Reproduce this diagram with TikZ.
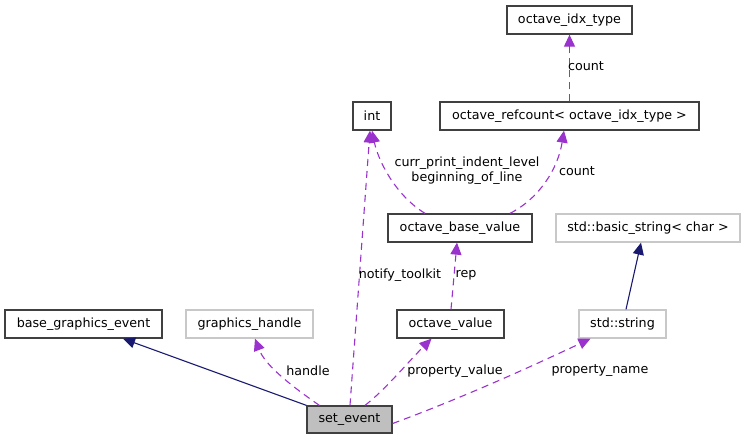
\documentclass[tikz,border=0pt]{standalone}
\usepackage{fontspec}
\setmainfont{DejaVu Sans}
\usetikzlibrary{arrows.meta}
\definecolor{edgepurple}{HTML}{9A32CD}
\definecolor{edgenavy}{HTML}{191970}
\definecolor{boxdark}{HTML}{404040}
\definecolor{boxlight}{HTML}{C8C8C8}
\definecolor{setfill}{HTML}{BFBFBF}
\begin{document}
\begin{tikzpicture}[x=1pt,y=-1pt,
  every node/.style={font=\fontsize{12.7}{15}\selectfont},
  cls/.style={draw=boxdark,line width=1.3pt,fill=white,inner sep=0pt,minimum height=28pt,align=center},
  ext/.style={draw=boxlight,line width=1.3pt,fill=white,inner sep=0pt,minimum height=28pt,align=center},
  usage/.style={draw=edgepurple,line width=1.1pt,dash pattern=on 7pt off 5pt,-{Triangle[length=12pt,width=11pt,fill=edgepurple]}},
  inherit/.style={draw=edgenavy,line width=1.1pt,-{Triangle[length=12pt,width=11pt,fill=edgenavy]}},
  lbl/.style={inner sep=0pt,align=center}]
\useasboundingbox (0,0) rectangle (745,440);
% nodes
\node[cls,minimum width=157pt] (base) at (83.5,324) {base\_graphics\_event};
\node[ext,minimum width=127pt] (gh) at (249.5,324) {graphics\_handle};
\node[cls,minimum width=85pt,minimum height=27pt,fill=setfill] (set) at (349.5,419.5) {set\_event};
\node[cls,minimum width=38pt] (int) at (372,116) {int};
\node[cls,minimum width=125pt] (idx) at (569.5,20) {octave\_idx\_type};
\node[cls,minimum width=259pt] (refc) at (569.5,116) {octave\_refcount< octave\_idx\_type >};
\node[cls,minimum width=144pt] (obv) at (460,228) {octave\_base\_value};
\node[ext,minimum width=184pt] (bstr) at (648,228) {std::basic\_string< char >};
\node[cls,minimum width=107pt] (ov) at (450.5,324) {octave\_value};
\node[ext,minimum width=87pt] (str) at (622.5,324) {std::string};
% edges
\draw[inherit] (set.north west) -- ([xshift=39.5pt]base.south);
\draw[usage] ([xshift=13pt]set.north west) .. controls (290,385) and (265,365) .. ([xshift=5.5pt]gh.south);
\draw[usage] ([xshift=0.5pt]set.north) -- ([xshift=-2pt]int.south);
\draw[usage] ([xshift=15.5pt]set.north) .. controls (385,390) and (410,360) .. ([xshift=-19pt]ov.south);
\draw[usage] ([yshift=-4pt]set.east) .. controls (470,395) and (545,360) .. ([xshift=-32pt]str.south);
\draw[usage] ([xshift=0.5pt]ov.north) -- ([xshift=-3pt]obv.south);
\draw[usage] ([xshift=-35pt]obv.north) .. controls (395,195) and (378,160) .. (int.south);
\draw[usage] ([xshift=50pt]obv.north) .. controls (540,198) and (558,168) .. ([xshift=-5.5pt]refc.south);
\draw[usage] (refc.north) -- (idx.south);
\draw[inherit] ([xshift=3.5pt]str.north) -- ([xshift=-7pt]bstr.south);
% labels
\node[lbl] (lhandle) at (308,371) {handle};
\node[lbl] (lnotify) at (400,275) {notify\_toolkit};
\node[lbl] (lrep) at (466,275) {rep};
\node[lbl] (lpv) at (455,371) {property\_value};
\node[lbl] (lpn) at (600,371) {property\_name};
\node[lbl] (lcurr) at (467,171) {curr\_print\_indent\_level\\beginning\_of\_line};
\node[lbl] (lcount1) at (577,171) {count};
\node[lbl] (lcount2) at (586,66) {count};
\end{tikzpicture}
\end{document}
